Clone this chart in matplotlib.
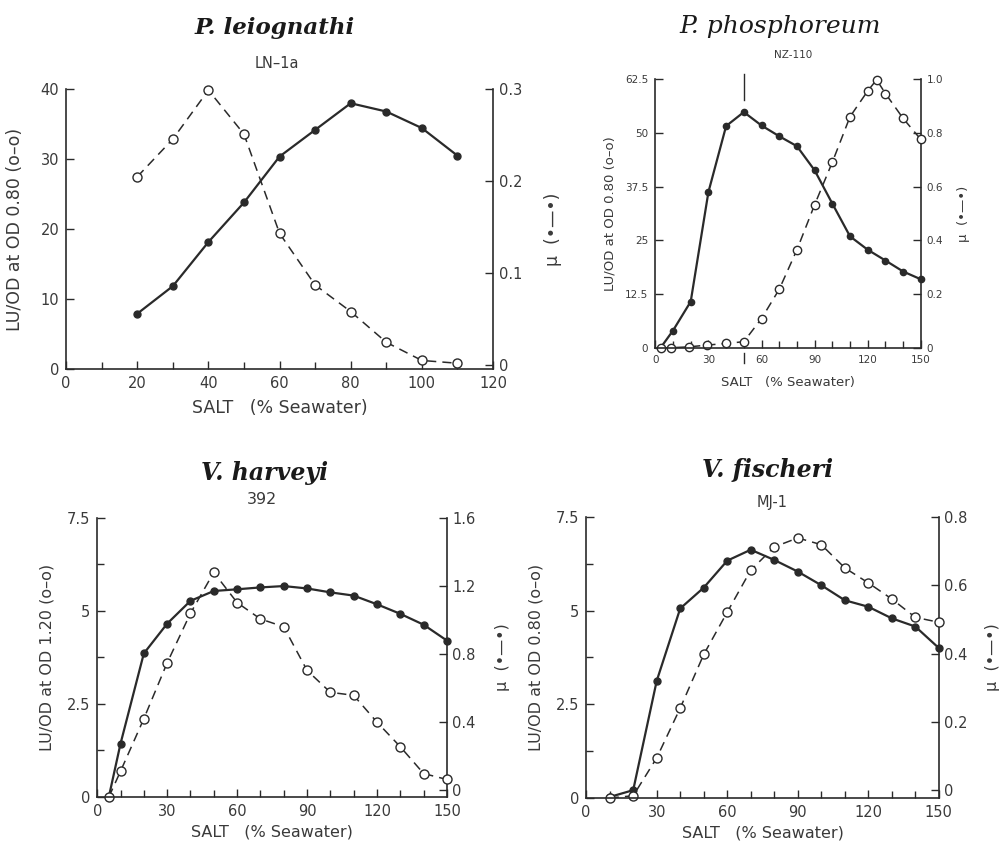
import matplotlib
matplotlib.use("Agg")
import matplotlib.pyplot as plt
from matplotlib.ticker import MultipleLocator, FuncFormatter

# P. leiognathi, LN-1a
leioSalt = [20, 30, 40, 50, 60, 70, 80, 90, 100, 110]
leioLu = [27.5, 32.9, 39.9, 33.6, 19.4, 12.0, 8.2, 3.8, 1.2, 0.8]
leioMu = [0.056, 0.086, 0.134, 0.177, 0.227, 0.256, 0.285, 0.276, 0.258, 0.228]

# P. phosphoreum, NZ-110
phosLuSalt = [3, 9, 19, 29, 40, 50, 60, 70, 80, 90, 100, 110, 120, 125, 130, 140, 150]
phosLu = [0, 0, 0.2, 0.6, 1.0, 1.4, 6.8, 13.6, 22.8, 33.3, 43.2, 53.8, 59.8, 62.4, 59.2, 53.4, 48.5]
phosMuSalt = [3, 10, 20, 30, 40, 50, 60, 70, 80, 90, 100, 110, 120, 130, 140, 150]
phosMu = [0, 0.064, 0.172, 0.580, 0.826, 0.878, 0.828, 0.788, 0.751, 0.661,
          0.537, 0.415, 0.365, 0.325, 0.284, 0.255]
phosMark = 50  # vertical marker above the optimum

# V. harveyi, 392
harvSalt = [5, 10, 20, 30, 40, 50, 60, 70, 80, 90, 100, 110, 120, 130, 140, 150]
harvLu = [0, 0.69, 2.10, 3.60, 4.93, 6.03, 5.22, 4.78, 4.57, 3.40, 2.81, 2.73,
          2.01, 1.35, 0.63, 0.47]
harvMu = [-0.04, 0.272, 0.802, 0.977, 1.111, 1.169, 1.179, 1.190, 1.198, 1.184,
          1.161, 1.142, 1.091, 1.035, 0.971, 0.878]

# V. fischeri, MJ-1
fischSalt = [10, 20, 30, 40, 50, 60, 70, 80, 90, 100, 110, 120, 130, 140, 150]
fischLu = [0, 0.06, 1.07, 2.40, 3.83, 4.96, 6.08, 6.70, 6.94, 6.76, 6.14, 5.74,
           5.31, 4.82, 4.69]
fischMu = [-0.02, 0.0, 0.320, 0.532, 0.593, 0.672, 0.704, 0.674, 0.640, 0.600,
           0.556, 0.537, 0.503, 0.479, 0.416]

W, H = 1002, 844
INK = '#2a2a2a'
TXT = '#3a3a3a'
MU_LABEL = '\u03bc  (\u2022\u2014\u2022)'


def fmtNum(v, pos):
    return '%g' % v


def fmtMu(v, pos):
    if abs(v) < 1e-9:
        return '0'
    return '%.1f' % v


def px(x, y):
    return x / W, 1 - y / H


def drawPanel(fig, rect, luSalt, lu, muSalt, mu, luLabel, xmax, xMajor,
              luMax, luMajor, luMinor, muMax, muMajor, muLow,
              fs, labFs, ms, pads):
    ax = fig.add_axes(rect)
    ax2 = ax.twinx()
    ax.set_zorder(ax2.get_zorder() + 1)
    ax.patch.set_visible(False)

    ax2.plot(muSalt, mu, '-', color=INK, lw=1.6, marker='o', ms=ms,
             mfc=INK, mec=INK, clip_on=False)
    ax.plot(luSalt, lu, color=INK, lw=1.1, ls=(0, (6, 4)), marker='o',
            ms=ms + 1.5, mfc='white', mec=INK, mew=1.0, clip_on=False)

    ax.set_xlim(0, xmax)
    ax.set_ylim(0, luMax)
    ax2.set_ylim(-muLow, muMax)
    ax.xaxis.set_major_locator(MultipleLocator(xMajor))
    ax.xaxis.set_minor_locator(MultipleLocator(10))
    ax.yaxis.set_major_locator(MultipleLocator(luMajor))
    if luMinor:
        ax.yaxis.set_minor_locator(MultipleLocator(luMinor))
    ax2.set_yticks([i * muMajor for i in range(int(round(muMax / muMajor)) + 1)])
    ax.xaxis.set_major_formatter(FuncFormatter(fmtNum))
    ax.yaxis.set_major_formatter(FuncFormatter(fmtNum))
    ax2.yaxis.set_major_formatter(FuncFormatter(fmtMu))

    for a in (ax, ax2):
        a.spines['top'].set_visible(False)
        for s in a.spines.values():
            s.set_color(INK)
            s.set_linewidth(1.2)
    ax2.spines['left'].set_visible(False)
    ax.spines['right'].set_visible(False)
    ax2.spines['bottom'].set_visible(False)

    ax.tick_params(which='major', direction='in', length=6, width=1.0,
                   labelsize=fs, labelcolor=TXT, color=INK, pad=5)
    ax.tick_params(which='minor', direction='in', length=5, width=1.0, color=INK)
    ax2.tick_params(which='major', direction='in', length=6, width=1.0,
                    labelsize=fs, labelcolor=TXT, color=INK, pad=4)

    ax.set_xlabel('SALT   (% Seawater)', fontsize=labFs, color=TXT, labelpad=pads[0])
    ax.set_ylabel(luLabel, fontsize=labFs, color=TXT, labelpad=pads[1])
    ax2.set_ylabel(MU_LABEL, fontsize=labFs, color=TXT,
                   labelpad=pads[2], rotation=90)
    return ax, ax2


fig = plt.figure(figsize=(W / 100, H / 100), dpi=100)
fig.patch.set_facecolor('white')

titleFont = dict(family='DejaVu Serif', style='italic', weight='bold',
                 color='#1a1a1a', ha='center', va='center')
subFont = dict(family='DejaVu Sans', color=TXT, ha='center', va='center')

# top left
drawPanel(fig, [0.066, 0.563, 0.426, 0.331], leioSalt, leioLu, leioSalt, leioMu,
          'LU/OD at OD 0.80 (o\u2013o)', 120, 20, 40, 10, None, 0.3, 0.1, 0.004,
          10.5, 12.5, 5, (6, 12, 16))
fig.text(*px(275, 28), 'P. leiognathi', fontsize=16.5, **titleFont)
fig.text(*px(277, 63), 'LN\u20131a', fontsize=10.5, **subFont)

# top right
ax, ax2 = drawPanel(fig, [0.654, 0.588, 0.265, 0.318], phosLuSalt, phosLu,
                    phosMuSalt, phosMu, 'LU/OD at OD 0.80 (o\u2013o)', 150, 30,
                    62.5, 12.5, None, 1.0, 0.2, 0.0, 7.5, 9.5, 4.5, (8, 6, 10))
ax.plot([phosMark, phosMark], [57.8, 63.8], color=INK, lw=1.0, clip_on=False)
ax.plot([phosMark, phosMark], [-1.2, -3.6], color=INK, lw=1.0, clip_on=False)
fig.text(*px(780, 26), 'P. phosphoreum', fontsize=18,
         **dict(titleFont, weight='normal'))
fig.text(*px(793, 55), 'NZ-110', fontsize=7.5, **subFont)

# bottom left
drawPanel(fig, [0.097, 0.0557, 0.349, 0.331], harvSalt, harvLu, harvSalt, harvMu,
          'LU/OD at OD 1.20 (o\u2013o)', 150, 30, 7.5, 2.5, 1.25, 1.6, 0.4, 0.041,
          10.5, 11.5, 5, (4, 9, 14))
fig.text(*px(265, 473), 'V. harveyi', fontsize=17, **titleFont)
fig.text(*px(262, 500), '392', fontsize=11.5, **subFont)

# bottom right
drawPanel(fig, [0.585, 0.0545, 0.352, 0.333], fischSalt, fischLu, fischSalt, fischMu,
          'LU/OD at OD 0.80 (o\u2013o)', 150, 30, 7.5, 2.5, 1.25, 0.8, 0.2, 0.023,
          10.5, 11.5, 5, (4, 9, 12))
fig.text(*px(768, 470), 'V. fischeri', fontsize=17, **titleFont)
fig.text(*px(772, 503), 'MJ-1', fontsize=10.5, **subFont)

fig.savefig('out.png', dpi=100, facecolor='white')
